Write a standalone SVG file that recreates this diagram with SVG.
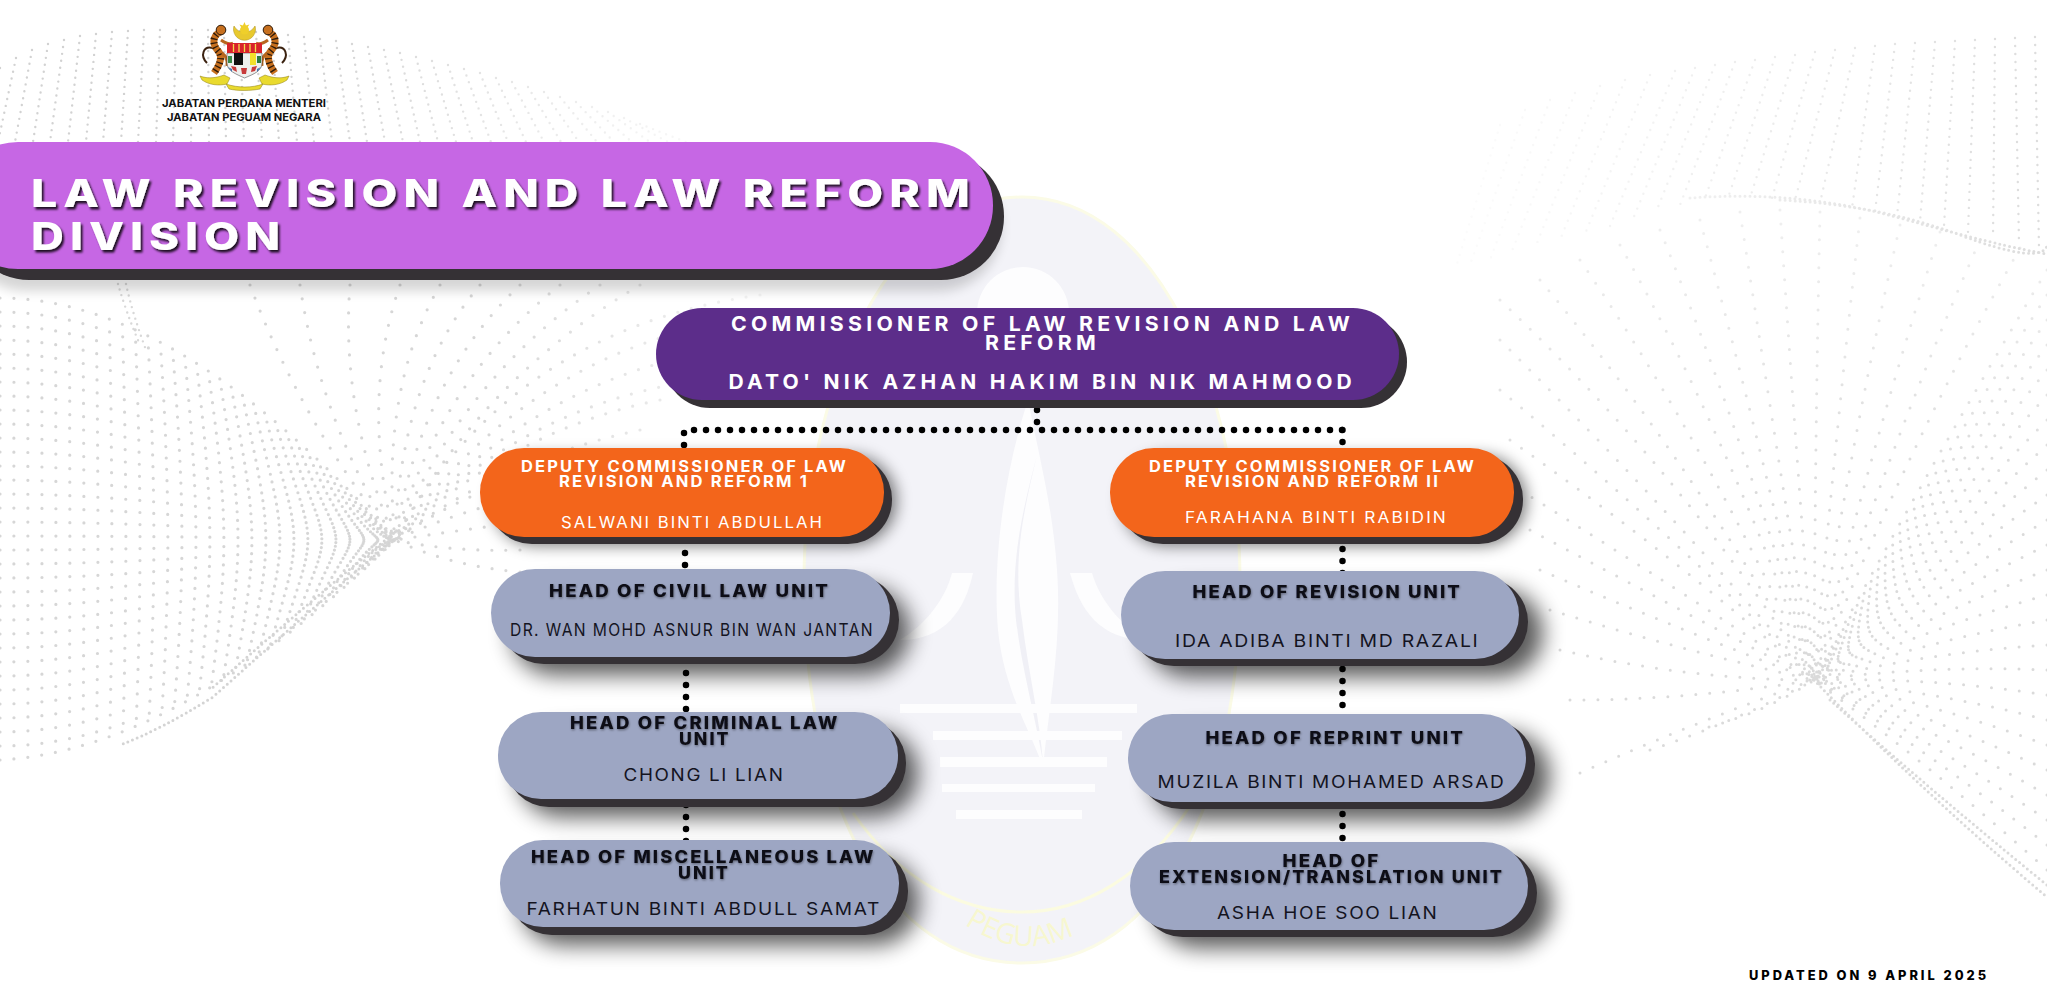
<svg xmlns="http://www.w3.org/2000/svg" xmlns:xlink="http://www.w3.org/1999/xlink" width="2047" height="1005" viewBox="0 0 2047 1005">
<style>
text{font-family:"Inter","Liberation Sans",sans-serif}
.dots{fill:none;stroke-linecap:round}
.dk{fill:#353135}
.pl{fill:#c667e4}.pu{fill:#5c2d8a}.or{fill:#f3651b}.gr{fill:#9da6c3}
.bl{fill:#000}
.ti{font-size:38px;font-weight:800;fill:#fff;letter-spacing:5px}
.co{font-size:20px;font-weight:700;fill:#fff;letter-spacing:4px}
.de{font-size:15.5px;font-weight:700;fill:#fff;letter-spacing:2px}
.dn{font-size:16.5px;font-weight:400;fill:#fff;letter-spacing:2px}
.he{font-size:17px;font-weight:800;fill:#0b0b14;letter-spacing:2px}
.hn{font-size:17px;font-weight:400;fill:#14141f;letter-spacing:1.5px}
.hd{font-size:10.5px;font-weight:700;fill:#111}
.up{font-size:13px;font-weight:800;fill:#000;letter-spacing:3px}
.cn{fill:none;stroke:#000;stroke-width:6.5;stroke-linecap:round;stroke-dasharray:0 12}
</style>
<defs>
<filter id="b11" x="-20%" y="-60%" width="140%" height="240%"><feGaussianBlur stdDeviation="11"/></filter>
<filter id="b8" x="-20%" y="-50%" width="140%" height="220%"><feGaussianBlur stdDeviation="8"/></filter>
<filter id="b6" x="-20%" y="-50%" width="140%" height="220%"><feGaussianBlur stdDeviation="6"/></filter>
<filter id="sT" x="-5%" y="-20%" width="110%" height="150%"><feDropShadow dx="2" dy="2.5" stdDeviation="1" flood-color="#000" flood-opacity=".85"/></filter>
<filter id="sS" x="-5%" y="-30%" width="110%" height="170%"><feDropShadow dx=".6" dy="1.2" stdDeviation=".9" flood-color="#000" flood-opacity=".4"/></filter>
<linearGradient id="gL" gradientUnits="userSpaceOnUse" x1="480" y1="0" x2="760" y2="0"><stop offset="0" stop-color="#d6d6d6"/><stop offset="1" stop-color="#f4f4f4"/></linearGradient>
<linearGradient id="gT" gradientUnits="userSpaceOnUse" x1="300" y1="0" x2="700" y2="0"><stop offset="0" stop-color="#d2d2d2"/><stop offset="1" stop-color="#f9f9f9"/></linearGradient>
<linearGradient id="gR" gradientUnits="userSpaceOnUse" x1="2047" y1="0" x2="1480" y2="0"><stop offset="0" stop-color="#dcdcdc"/><stop offset=".5" stop-color="#ececec"/><stop offset="1" stop-color="#fbfbfb"/></linearGradient>
<linearGradient id="gB" gradientUnits="userSpaceOnUse" x1="0" y1="220" x2="0" y2="500"><stop offset="0" stop-color="#efefef"/><stop offset="1" stop-color="#dadada"/></linearGradient>
<g id="tiger">
<path d="M213 48C203 45 200 56 207 63" fill="none" stroke="#3b2210" stroke-width="2"/>
<path d="M220 32C211 37 213 46 219 52C223 58 219 66 214 73" fill="none" stroke="#c7701f" stroke-width="7"/>
<path d="M220 32C211 37 213 46 219 52C223 58 219 66 214 73" fill="none" stroke="#2b1a0c" stroke-width="7" stroke-dasharray="1.300 3"/>
<path d="M221 40C225 43 229 45 233 43M222 53C226 56 228 60 227 66" fill="none" stroke="#b8661e" stroke-width="3"/>
<circle cx="221" cy="30" r="4.800" fill="#c7701f" stroke="#2b1a0c" stroke-width="1"/>
</g>
<path id="arcP" d="M955 917Q1028 975 1102 917"/>
</defs>
<rect width="2047" height="1005" fill="#fff"/>
<g id="background-dots">
<path class="dots" stroke="url(#gT)" stroke-width="2.400" stroke-dasharray="0 7" d="M0 68L-20 142M16 58L-2 142M32 50L15 142M48 44L33 142M64 40L50 142M80 36L68 142M96 34L86 142M112 32L103 142M128 31L121 142M144 30L138 142M160 30L156 142M176 30L173 142M192 30L191 142M208 30L209 142M224 31L226 142M240 31L244 142M256 32L262 142M272 33L279 142M288 35L297 142M304 37L314 142M320 39L332 142M336 41L350 142M352 44L367 142M368 47L385 142M384 50L403 142M400 53L420 142M416 57L438 142M432 61L456 142M448 65L473 142M464 69L491 142M480 73L508 142M496 78L526 142M512 82L544 142M528 87L561 142M544 92L579 142M560 97L597 142M576 102L614 142M592 107L632 142M608 112L650 142M624 118L668 142M640 124L686 142"/>
<path class="dots" stroke="url(#gL)" stroke-width="3.200" stroke-dasharray="0 14" d="M0 760Q180 750 395 540M0 746Q180 746 395 540M0 732Q180 732 395 540M0 718Q180 718 395 540M0 704Q180 704 395 540M0 690Q180 690 395 540M0 676Q180 676 395 540M0 662Q180 662 395 540M0 648Q180 648 395 540M0 634Q180 634 395 540M0 620Q180 620 395 540M0 606Q180 606 395 540M0 592Q180 592 395 540M0 578Q180 578 395 540M0 564Q180 564 395 540M0 550Q180 550 395 540M0 536Q180 536 395 540M0 522Q180 522 395 540M0 508Q180 508 395 540M0 494Q180 494 395 540M0 480Q180 480 395 540M0 466Q180 466 395 540M0 452Q180 452 395 540M0 438Q180 438 395 540M0 424Q180 424 395 540M0 410Q180 410 395 540M0 396Q180 396 395 540M0 382Q180 382 395 540M0 368Q180 368 395 540M0 354Q180 354 395 540M0 340Q180 340 395 540M0 326Q180 326 395 540M0 312Q180 312 395 540M0 298Q180 298 395 540
M520 572Q450 566 395 540M520 550Q450 552 395 540M540 520Q460 530 395 540M560 490Q470 505 395 540M590 460Q480 480 395 540M640 430Q500 460 395 540M660 400Q510 430 395 540M700 380Q520 405 395 540M720 350Q530 380 395 540M740 320Q530 350 395 540M760 295Q510 330 395 540M640 285Q480 380 395 540M600 285Q460 380 395 540M560 285Q440 380 395 540M520 285Q420 380 395 540M480 285Q400 380 395 540M440 285Q380 390 395 540M400 285Q360 400 395 540M350 285Q340 410 395 540M300 285Q320 420 395 540M250 285Q300 420 395 540"/>
<path class="dots" stroke="#d8d8d8" stroke-width="2.400" stroke-dasharray="0 6" d="M118 284Q126 312 140 345M126 284Q132 312 146 350"/>
<path class="dots" stroke="#d4d4d4" stroke-width="3" stroke-dasharray="0 5" d="M393 540Q310 610 213 697Q160 730 120 745M388 538Q305 605 210 690"/>
<path class="dots" stroke="url(#gR)" stroke-width="2.400" stroke-dasharray="0 8" d="M2035 37L2039 248M2015 38L2019 243M1995 39L1993 238M1975 40L1968 232M1955 41L1944 226M1935 42L1920 221M1915 43L1897 216M1895 44L1875 212M1875 46L1852 208M1855 48L1820 203M1835 50L1795 200M1815 52L1772 198M1795 55L1750 198M1775 57L1728 198M1755 60L1705 198M1735 62L1680 205M1715 65L1656 212M1695 68L1633 219M1675 71L1610 226M1650 75L1585 234M1625 80L1560 240M1600 86L1535 248M1575 93L1510 256M1550 100L1490 260M1525 110L1470 265M1500 125L1455 270"/>
<path class="dots" stroke="url(#gB)" stroke-width="3" stroke-dasharray="0 14" d="M1500 300Q1680 470 1814 680M1540 280Q1690 460 1814 680M1580 260Q1710 450 1814 680M1620 245Q1730 440 1814 680M1660 230Q1745 440 1814 680M1700 220Q1760 440 1814 680M1740 212Q1775 440 1814 680M1780 210Q1795 440 1814 680M1820 212Q1815 440 1814 680M1860 218Q1835 440 1814 680M1900 225Q1850 445 1814 680M1940 232Q1870 450 1814 680M1980 240Q1885 455 1814 680M2020 248Q1900 460 1814 680
M2047 270Q1930 465 1814 680M2047 295Q1930 477 1814 680M2047 320Q1930 490 1814 680M2047 345Q1930 502 1814 680M2047 370Q1930 515 1814 680M2047 395Q1930 527 1814 680M2047 420Q1930 540 1814 680M2047 445Q1930 552 1814 680M2047 470Q1930 565 1814 680M2047 495Q1930 577 1814 680M2047 520Q1930 590 1814 680M2047 545Q1930 602 1814 680M2047 570Q1930 615 1814 680M2047 595Q1930 627 1814 680M2047 620Q1930 640 1814 680M2047 645Q1930 652 1814 680M2047 670Q1930 665 1814 680M2047 695Q1930 677 1814 680M2047 720Q1930 690 1814 680M2047 745Q1930 702 1814 680M2047 770Q1930 715 1814 680M2047 795Q1930 727 1814 680M2047 820Q1930 740 1814 680M2047 845Q1930 752 1814 680M2047 870Q1930 765 1814 680
M1500 340Q1680 520 1814 680M1500 390Q1680 540 1814 680M1510 440Q1680 560 1814 680M1520 490Q1680 590 1814 680M1530 530Q1680 610 1814 680M1540 570Q1680 630 1814 680M1550 610Q1680 650 1814 680M1560 650Q1690 680 1814 680M1570 700Q1690 700 1814 680M1580 773Q1700 720 1814 680M1650 750Q1740 720 1814 680M1709 727Q1770 710 1814 680"/>
<path class="dots" stroke="#dadada" stroke-width="3" stroke-dasharray="0 5" d="M1814 680Q1920 790 2047 897M1830 700Q1930 790 2047 885"/>
<path class="dots" stroke="url(#gR)" stroke-width="3" stroke-dasharray="0 5" d="M1690 198Q1800 190 1900 218T2047 254M1780 200Q1880 205 1960 235T2047 246"/>
</g>
<g id="watermark">
<path d="M1022 197C1160 197 1240 400 1240 580C1240 800 1160 963 1022 963C884 963 804 800 804 580C804 400 884 197 1022 197Z" fill="#f3f3f8" stroke="#fbfbe6" stroke-width="3"/>
<path d="M853 813C900 880 960 912 1022 912C1085 912 1145 875 1190 806" fill="none" stroke="#fbfbe0" stroke-width="3"/>
<circle cx="1023" cy="313" r="46" fill="#fdfdfe"/>
<path d="M1028 400C1005 470 992 560 998 630C1004 690 1030 730 1043 767C1050 700 1062 640 1057 570C1053 510 1040 460 1028 400Z" fill="#fdfdfe"/>
<path d="M1037 455C1024 510 1012 560 1022 620C1028 670 1040 720 1043 762C1036 720 1022 670 1016 620C1010 560 1024 505 1037 455Z" fill="#f0f0f6"/>
<path d="M973 573C965 610 945 640 900 640C925 625 945 600 952 573Z" fill="#fdfdfe"/>
<path d="M1070 573C1080 610 1100 640 1147 640C1120 625 1100 600 1092 573Z" fill="#fdfdfe"/>
<g fill="#fdfdfe"><rect x="900" y="704" width="237" height="9"/><rect x="933" y="731" width="189" height="9"/><rect x="940" y="757" width="167" height="10"/><rect x="942" y="784" width="153" height="8"/><rect x="956" y="810" width="126" height="9"/></g>
<text font-size="28" fill="#f7f7cf" font-weight="400" style="font-family:'Open Sans',sans-serif"><textPath xlink:href="#arcP" href="#arcP" startOffset="12">PEGUAM</textPath></text>
</g>
<g id="connectors">
<path class="cn" d="M694 430H1344M1037 410V423M684 433V446M1342.5 430V443M685 553V566M686 673V710M686 805V842M1342.5 549V574M1342.5 669V706M1342.5 814V839"/>
</g>
<g id="crest">
<path d="M234 26a11 11 0 1 0 21 0a12 12 0 0 1-21 0z" fill="#e8c92e" stroke="#a98d18" stroke-width=".5"/>
<circle cx="244.500" cy="30" r="4.500" fill="#efcf2a"/>
<path d="M244.500 22l1.400 3.500 3.500-1-2 3h-6l-2-3 3.500 1z" fill="#efcf2a"/>
<use href="#tiger"/>
<use href="#tiger" transform="matrix(-1 0 0 1 489 0)"/>
<path d="M227 53h35v10c0 8-8 11-17.500 15C236 74 227 71 227 63z" fill="#eef0ee" stroke="#333" stroke-width=".5"/>
<rect x="227" y="43" width="35" height="10" fill="#d8232a"/>
<path d="M233.500 44v8M239 44v8M244.500 44v8M250 44v8M255.500 44v8" stroke="#f5dc4a" stroke-width="1.300"/>
<rect x="234" y="53" width="9" height="12" fill="#111"/><rect x="250" y="53" width="6" height="12" fill="#f2e02c"/>
<rect x="228" y="56" width="4" height="7" fill="#3a8b4a"/><rect x="257" y="56" width="4" height="7" fill="#2c7a40"/>
<path d="M231 66l5 1 1 5-4-2zM252 67l5-1-2 5-4 1zM241 68h6l-1 6h-4z" fill="#c73a3a"/>
<path d="M228 67l4 2 0 3zM261 67l-4 2 0 3z" fill="#3f74b5"/>
<path d="M200 76c8 3 16 2 24-1l6 3-3 6c-8 2-18 1-25-4zM289 76c-8 3-16 2-24-1l-6 3 3 6c8 2 18 1 25-4z" fill="#e9da2e" stroke="#8d7d12" stroke-width=".5"/>
<path d="M226 84c12 4 26 4 37 0l-3 5c-10 2-22 2-31 0z" fill="#e9da2e" stroke="#8d7d12" stroke-width=".5"/>
</g>
<g id="header-text">
<text class="hd" x="162" y="107" textLength="164" lengthAdjust="spacingAndGlyphs">JABATAN PERDANA MENTERI</text>
<text class="hd" x="167" y="120.500" textLength="154" lengthAdjust="spacingAndGlyphs">JABATAN PEGUAM NEGARA</text>
</g>
<g id="title-banner">
<rect class="bl" x="-37" y="164" width="1038" height="127" rx="63" opacity=".16" filter="url(#b6)"/>
<rect class="dk" x="-34" y="153" width="1038" height="127" rx="63"/>
<rect class="pl" x="-45" y="142" width="1038" height="127" rx="63"/>
<g filter="url(#sT)">
<text class="ti" x="31" y="207" textLength="945" lengthAdjust="spacingAndGlyphs">LAW REVISION AND LAW REFORM</text>
<text class="ti" x="31" y="250" textLength="255" lengthAdjust="spacingAndGlyphs">DIVISION</text>
</g>
</g>
<g id="commissioner">
<rect class="dk" x="664" y="316" width="743" height="92" rx="46"/>
<rect class="pu" x="656" y="308" width="743" height="92" rx="46"/>
<text class="co" x="731" y="331" textLength="623" lengthAdjust="spacingAndGlyphs">COMMISSIONER OF LAW REVISION AND LAW</text>
<text class="co" x="985" y="350" textLength="115" lengthAdjust="spacingAndGlyphs">REFORM</text>
<text class="co" x="728.500" y="389" textLength="627.500" lengthAdjust="spacingAndGlyphs">DATO' NIK AZHAN HAKIM BIN NIK MAHMOOD</text>
</g>
<g id="deputy-1">
<rect class="bl" x="492" y="456" width="404" height="89" rx="44" opacity=".55" filter="url(#b8)"/>
<rect class="dk" x="488" y="455" width="404" height="89" rx="44"/>
<rect class="or" x="480" y="448" width="404" height="89" rx="44"/>
<text class="de" x="521" y="472" textLength="327" lengthAdjust="spacingAndGlyphs">DEPUTY COMMISSIONER OF LAW</text>
<text class="de" x="559" y="487" textLength="250" lengthAdjust="spacingAndGlyphs">REVISION AND REFORM 1</text>
<text class="dn" x="561" y="528" textLength="263" lengthAdjust="spacingAndGlyphs">SALWANI BINTI ABDULLAH</text>
</g>
<g id="deputy-2">
<rect class="bl" x="1122" y="456" width="404" height="89" rx="44" opacity=".55" filter="url(#b8)"/>
<rect class="dk" x="1119" y="455" width="404" height="89" rx="44"/>
<rect class="or" x="1110" y="448" width="404" height="89" rx="44"/>
<text class="de" x="1149" y="472" textLength="327" lengthAdjust="spacingAndGlyphs">DEPUTY COMMISSIONER OF LAW</text>
<text class="de" x="1185" y="487" textLength="255" lengthAdjust="spacingAndGlyphs">REVISION AND REFORM II</text>
<text class="dn" x="1185" y="523" textLength="263" lengthAdjust="spacingAndGlyphs">FARAHANA BINTI RABIDIN</text>
</g>
<g id="head-civil">
<rect class="bl" x="511" y="587" width="399" height="88" rx="44" opacity=".65" filter="url(#b11)"/>
<rect class="dk" x="500" y="576" width="399" height="88" rx="44"/>
<rect class="gr" x="491" y="569" width="399" height="88" rx="44"/>
<text class="he" x="549" y="597" textLength="281" lengthAdjust="spacingAndGlyphs" filter="url(#sS)">HEAD OF CIVIL LAW UNIT</text>
<text class="hn" x="510" y="636" textLength="364" lengthAdjust="spacingAndGlyphs">DR. WAN MOHD ASNUR BIN WAN JANTAN</text>
</g>
<g id="head-criminal">
<rect class="bl" x="518" y="730" width="400" height="87" rx="43" opacity=".65" filter="url(#b11)"/>
<rect class="dk" x="506" y="720" width="400" height="87" rx="43"/>
<rect class="gr" x="498" y="712" width="400" height="87" rx="43"/>
<g filter="url(#sS)">
<text class="he" x="570" y="729" textLength="269.500" lengthAdjust="spacingAndGlyphs">HEAD OF CRIMINAL LAW</text>
<text class="he" x="679" y="745" textLength="51.500" lengthAdjust="spacingAndGlyphs">UNIT</text>
</g>
<text class="hn" x="623.500" y="781" textLength="161" lengthAdjust="spacingAndGlyphs">CHONG LI LIAN</text>
</g>
<g id="head-miscellaneous">
<rect class="bl" x="520" y="858" width="399" height="87" rx="43" opacity=".65" filter="url(#b11)"/>
<rect class="dk" x="509" y="848" width="399" height="87" rx="43"/>
<rect class="gr" x="500" y="840" width="399" height="87" rx="43"/>
<g filter="url(#sS)">
<text class="he" x="531" y="863" textLength="344.500" lengthAdjust="spacingAndGlyphs">HEAD OF MISCELLANEOUS LAW</text>
<text class="he" x="678" y="879" textLength="52" lengthAdjust="spacingAndGlyphs">UNIT</text>
</g>
<text class="hn" x="526.500" y="915" textLength="354.500" lengthAdjust="spacingAndGlyphs">FARHATUN BINTI ABDULL SAMAT</text>
</g>
<g id="head-revision">
<rect class="bl" x="1145" y="589" width="398" height="88" rx="44" opacity=".65" filter="url(#b11)"/>
<rect class="dk" x="1130" y="578" width="398" height="88" rx="44"/>
<rect class="gr" x="1121" y="571" width="398" height="88" rx="44"/>
<text class="he" x="1192.500" y="598" textLength="269.500" lengthAdjust="spacingAndGlyphs" filter="url(#sS)">HEAD OF REVISION UNIT</text>
<text class="hn" x="1175" y="647" textLength="304.500" lengthAdjust="spacingAndGlyphs">IDA ADIBA BINTI MD RAZALI</text>
</g>
<g id="head-reprint">
<rect class="bl" x="1152" y="732" width="398" height="88" rx="44" opacity=".65" filter="url(#b11)"/>
<rect class="dk" x="1137" y="721" width="398" height="88" rx="44"/>
<rect class="gr" x="1128" y="714" width="398" height="88" rx="44"/>
<text class="he" x="1205.500" y="744" textLength="259.500" lengthAdjust="spacingAndGlyphs" filter="url(#sS)">HEAD OF REPRINT UNIT</text>
<text class="hn" x="1157.500" y="788" textLength="348" lengthAdjust="spacingAndGlyphs">MUZILA BINTI MOHAMED ARSAD</text>
</g>
<g id="head-extension">
<rect class="bl" x="1154" y="860" width="398" height="88" rx="44" opacity=".65" filter="url(#b11)"/>
<rect class="dk" x="1139" y="849" width="398" height="88" rx="44"/>
<rect class="gr" x="1130" y="842" width="398" height="88" rx="44"/>
<g filter="url(#sS)">
<text class="he" x="1282.500" y="867" textLength="98" lengthAdjust="spacingAndGlyphs">HEAD OF</text>
<text class="he" x="1159" y="883" textLength="345" lengthAdjust="spacingAndGlyphs">EXTENSION/TRANSLATION UNIT</text>
</g>
<text class="hn" x="1217" y="919" textLength="221.500" lengthAdjust="spacingAndGlyphs">ASHA HOE SOO LIAN</text>
</g>
<text id="updated" class="up" x="1749" y="980" textLength="240" lengthAdjust="spacingAndGlyphs">UPDATED ON 9 APRIL 2025</text>
</svg>
